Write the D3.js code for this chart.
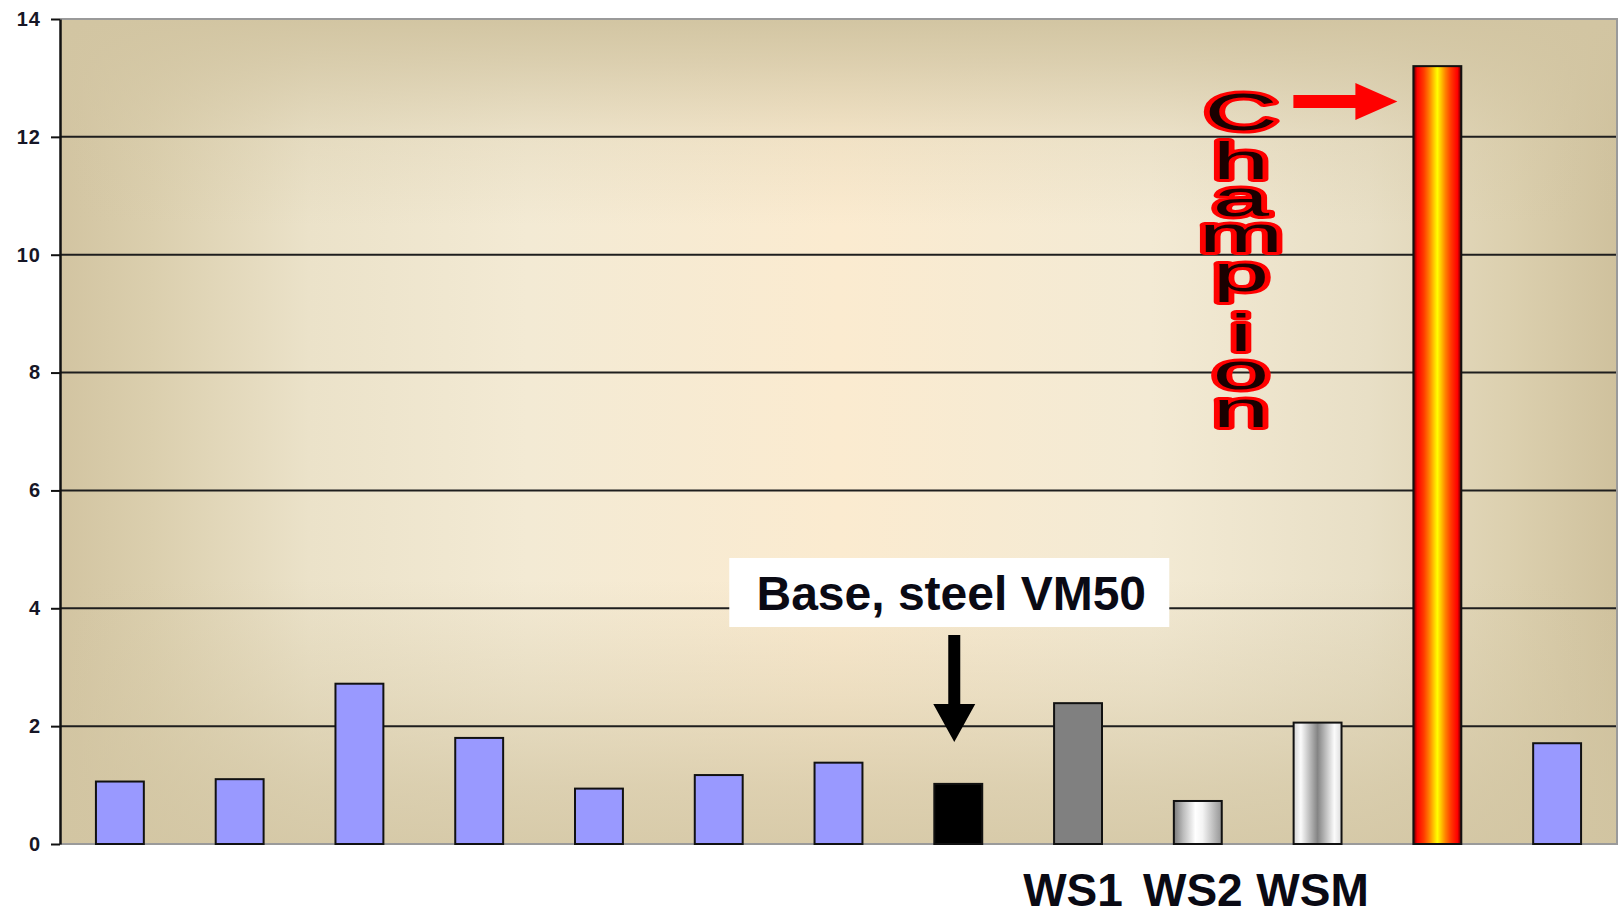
<!DOCTYPE html>
<html>
<head>
<meta charset="utf-8">
<script src="https://cdn.jsdelivr.net/npm/d3@7"></script>
<style>
  html, body { margin: 0; padding: 0; background: #ffffff; }
  svg { display: block; }
  text { font-family: "Liberation Sans", Arial, Helvetica, sans-serif; }
</style>
</head>
<body>
<svg id="chart" width="1619" height="916"></svg>
<script>
// ---- data ----
const categories = ["c1", "c2", "c3", "c4", "c5", "c6", "c7", "c8", "c9", "c10", "c11", "c12", "c13"];
const categoryLabels = ["", "", "", "", "", "", "", "", "WS1", "WS2", "WSM", "", ""];
const values = [1.06, 1.10, 2.72, 1.80, 0.94, 1.17, 1.38, 1.02, 2.39, 0.73, 2.06, 13.2, 1.71];
const barStyles = ["blue", "blue", "blue", "blue", "blue", "blue", "blue", "base", "ws1", "ws2", "wsm", "champion", "blue"];
const yTicks = [0, 2, 4, 6, 8, 10, 12, 14];
const baseLabel = "Base, steel VM50";
const champLabel = "Champion";

// ---- layout ----
const plot = { left: 60, right: 1617, top: 19, bottom: 844 };

const svg = d3.select("#chart");
const defs = svg.append("defs");

const x = d3.scaleBand()
  .domain(categories)
  .range([plot.left, plot.right])
  .paddingInner(0.6)
  .paddingOuter(0.3);

const y = d3.scaleLinear()
  .domain([0, 14])
  .range([plot.bottom, plot.top]);

// helper for horizontal gradients in bounding-box units
function hGrad(id, stops) {
  const g = defs.append("linearGradient")
    .attr("id", id).attr("x1", 0).attr("x2", 1).attr("y1", 0).attr("y2", 0);
  stops.forEach(s => g.append("stop")
    .attr("offset", s[0]).attr("stop-color", s[1])
    .attr("stop-opacity", s[2] === undefined ? 1 : s[2]));
}

// plot background: light centre fading to tan at the edges
hGrad("bgH", [
  [0, "#d2c4a1"], [0.06, "#dbcfae"], [0.16, "#ebe2c9"], [0.3, "#f3ead4"],
  [0.5, "#fbebd0"], [0.7, "#f3ead4"], [0.84, "#e8dfc6"], [0.93, "#dcd0af"], [1, "#cfc19d"]
]);
const bgV = defs.append("linearGradient")
  .attr("id", "bgV").attr("x1", 0).attr("x2", 0).attr("y1", 0).attr("y2", 1);
[[0, 1], [0.05, 0.75], [0.14, 0.25], [0.25, 0], [0.68, 0], [0.82, 0.35], [0.93, 0.7], [1, 0.85]]
  .forEach(s => bgV.append("stop").attr("offset", s[0])
    .attr("stop-color", "#d2c5a2").attr("stop-opacity", s[1]));

// bar fills
hGrad("ws2Grad", [[0, "#7a7a7a"], [0.2, "#bdbdbd"], [0.45, "#ffffff"], [0.6, "#f4f4f4"], [0.85, "#b8b8b8"], [1, "#949494"]]);
hGrad("wsmGrad", [[0, "#d4d4d4"], [0.15, "#fbfbfb"], [0.5, "#848484"], [0.85, "#fbfbfb"], [1, "#dcdcdc"]]);
hGrad("champGrad", [
  [0, "#500000"], [0.08, "#ff0000"], [0.22, "#ff3c00"], [0.33, "#ff8000"],
  [0.5, "#ffff00"], [0.67, "#ff8000"], [0.78, "#ff3c00"], [0.92, "#ff0000"], [1, "#500000"]
]);

const fillFor = {
  blue: "#9999ff",
  base: "#000000",
  ws1: "#808080",
  ws2: "url(#ws2Grad)",
  wsm: "url(#wsmGrad)",
  champion: "url(#champGrad)"
};

// ---- plot area ----
svg.append("rect")
  .attr("x", plot.left).attr("y", plot.top)
  .attr("width", plot.right - plot.left).attr("height", plot.bottom - plot.top)
  .attr("fill", "url(#bgH)");
svg.append("rect")
  .attr("x", plot.left).attr("y", plot.top)
  .attr("width", plot.right - plot.left).attr("height", plot.bottom - plot.top)
  .attr("fill", "url(#bgV)");

// horizontal gridlines
svg.append("g")
  .selectAll("line")
  .data(yTicks.filter(t => t > 0 && t < 14))
  .join("line")
  .attr("x1", plot.left).attr("x2", plot.right)
  .attr("y1", d => y(d)).attr("y2", d => y(d))
  .attr("stroke", "#1e1e1e").attr("stroke-width", 2);

// plot frame (top, right, bottom)
svg.append("path")
  .attr("d", `M${plot.left},${y(14)}H${plot.right}V${y(0)}H${plot.left}`)
  .attr("fill", "none").attr("stroke", "#9a9a9a").attr("stroke-width", 2);

// ---- bars ----
svg.append("g")
  .selectAll("rect")
  .data(values.map((v, i) => ({ cat: categories[i], v, style: barStyles[i] })))
  .join("rect")
  .attr("x", d => x(d.cat))
  .attr("y", d => y(d.v))
  .attr("width", x.bandwidth())
  .attr("height", d => y(0) - y(d.v))
  .attr("fill", d => fillFor[d.style])
  .attr("stroke", "#111")
  .attr("stroke-width", 2);

// ---- axes ----
const yAxis = svg.append("g")
  .attr("transform", `translate(${plot.left},0)`)
  .call(d3.axisLeft(y).tickValues(yTicks).tickSize(9).tickPadding(10).tickSizeOuter(0));
yAxis.select(".domain").attr("stroke", "#111").attr("stroke-width", 2.5);
yAxis.selectAll(".tick line").attr("stroke", "#111").attr("stroke-width", 2);
yAxis.selectAll(".tick text")
  .attr("font-size", 20).attr("font-weight", "bold").attr("fill", "#161626")
  .attr("letter-spacing", 1)
  .style("font-family", "'Liberation Sans', Arial, sans-serif");

const xAxis = svg.append("g")
  .attr("transform", `translate(0,${plot.bottom})`)
  .call(d3.axisBottom(x).tickSize(0).tickPadding(0)
    .tickFormat((d, i) => categoryLabels[i]));
xAxis.select(".domain").remove();
xAxis.selectAll(".tick text")
  .attr("dy", 0).attr("y", 62)
  .attr("dx", -5)
  .attr("font-size", 46).attr("font-weight", "bold").attr("fill", "#0a0a14")
  .style("font-family", "'Liberation Sans', Arial, sans-serif");

// ---- base annotation ----
const baseCat = categories[barStyles.indexOf("base")];
const baseCx = x(baseCat) + x.bandwidth() / 2;
const ann = svg.append("g");
ann.append("rect")
  .attr("x", baseCx - 229).attr("y", 558)
  .attr("width", 440).attr("height", 69)
  .attr("fill", "#ffffff");
ann.append("text")
  .attr("x", baseCx - 7).attr("y", 610)
  .attr("text-anchor", "middle")
  .attr("font-size", 48).attr("font-weight", "bold").attr("fill", "#0a0a14")
  .text(baseLabel);
const ax = baseCx - 4;
ann.append("path")
  .attr("d", `M${ax - 6},635H${ax + 6}V704H${ax + 21}L${ax},742L${ax - 21},704H${ax - 6}Z`)
  .attr("fill", "#000");

// ---- champion annotation ----
const champCat = categories[barStyles.indexOf("champion")];
const champLeft = x(champCat);
const tipX = champLeft - 16, tipY = 101.5;
svg.append("path")
  .attr("d", `M${tipX - 104},${tipY - 6.5}H${tipX - 42}V${tipY - 18.5}L${tipX},${tipY}` +
             `L${tipX - 42},${tipY + 18.5}V${tipY + 6.5}H${tipX - 104}Z`)
  .attr("fill", "#ff0000");

// stacked vertical lettering: one text element, one glyph per line
const letterBaselines = [130, 179, 216, 252, 291, 351, 389, 427];
const letterX = 1241;
svg.append("text")
  .attr("transform", `translate(${letterX},0) scale(1.95,1)`)
  .attr("text-anchor", "middle")
  .attr("font-size", 52)
  .attr("fill", "#1a0000")
  .attr("stroke", "#ff0000")
  .attr("stroke-width", 6)
  .attr("vector-effect", "non-scaling-stroke")
  .attr("paint-order", "stroke")
  .attr("stroke-linejoin", "round")
  .selectAll("tspan")
  .data(champLabel.split(""))
  .join("tspan")
  .attr("x", 0)
  .attr("y", (d, i) => letterBaselines[i])
  .text(d => d);
</script>
</body>
</html>
